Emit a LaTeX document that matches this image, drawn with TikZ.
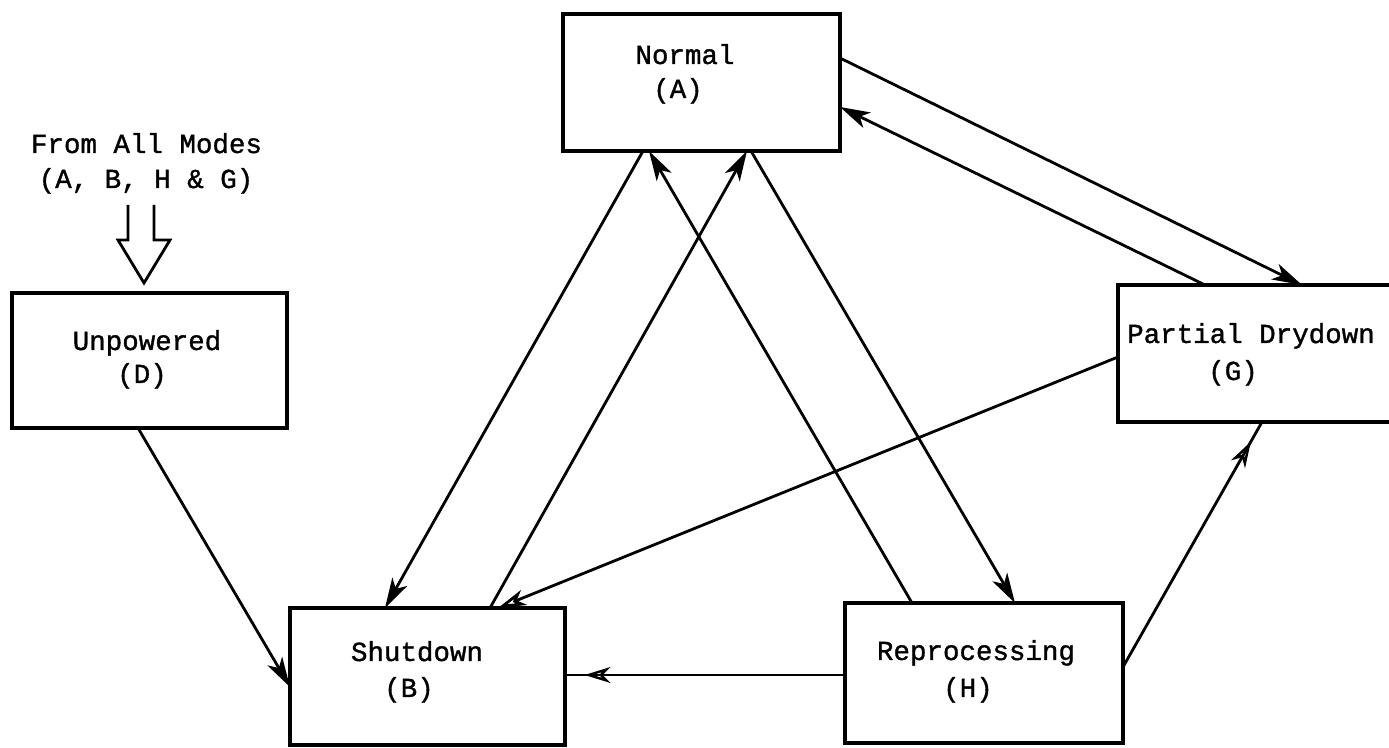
\documentclass[tikz,border=0pt]{standalone}
\usepackage{fontspec}
\setmonofont[FakeBold=1.2]{Liberation Mono}
\usetikzlibrary{arrows.meta,calc,decorations.markings}

\begin{document}
\begin{tikzpicture}[x=0.5pt,y=-0.5pt,
  box/.style={draw, line width=1.8pt, rectangle, inner sep=0pt, outer sep=0pt},
  lbl/.style={font=\ttfamily\fontsize{13.75pt}{16pt}\selectfont, anchor=base, inner sep=0pt},
  conn/.style={line width=1.4pt, -{Stealth[length=15pt,width=8.5pt,inset=4pt]}},
  openconn/.style={line width=1.4pt, -{Stealth[open,length=14pt,width=8pt,inset=4pt]}},
  tipat/.style={line width=1.4pt, postaction={decorate},
    decoration={markings, mark=at position #1 with {\arrow[line width=1.2pt]{Stealth[open,length=13pt,width=8pt,inset=4pt]}}}}
]
\useasboundingbox (0,0) rectangle (1389,748);
\fill[white] (0,0) rectangle (1389,748);
\clip (0,0) rectangle (1389,748);

% mode boxes
\node[box, minimum width=138.5pt, minimum height=68.5pt] (A) at (701.5,82.5) {};
\node[box, minimum width=137.5pt, minimum height=67.5pt] (D) at (149.5,360.5) {};
\node[box, minimum width=137.5pt, minimum height=68.5pt] (B) at (427.5,676.5) {};
\node[box, minimum width=139pt, minimum height=70pt] (H) at (984,673) {};
\node[box, minimum width=141pt, minimum height=68.5pt] (G) at (1259,353.5) {};

% box texts
\node[lbl] (A-name) at (685,64) {Normal};
\node[lbl] (A-code) at (678,98) {(A)};
\node[lbl] (D-name) at (147,350) {Unpowered};
\node[lbl] (D-code) at (142,383) {(D)};
\node[lbl] (B-name) at (417,661) {Shutdown};
\node[lbl] (B-code) at (409,697) {(B)};
\node[lbl] (H-name) at (976,660) {Reprocessing};
\node[lbl] (H-code) at (968,697) {(H)};
\node[lbl] (G-name) at (1251,343) {Partial Drydown};
\node[lbl] (G-code) at (1233,380) {(G)};
\node[lbl] (all-name) at (146.5,153) {From All Modes};
\node[lbl] (all-code) at (146,188) {(A, B, H \& G)};

% hollow arrow into the unpowered mode
\draw[line width=1.4pt, line join=miter]
  (128,205) -- (128,240) -- (118,240) -- (144,283) -- (170,240) -- (154,240) -- (154,205);

% attachment points on the box borders
\coordinate (A-r1) at ($(A.north east)+(0,44)$);
\coordinate (A-r2) at ($(A.north east)+(0,93)$);
\coordinate (A-b1) at ($(A.south west)+(80,0)$);
\coordinate (A-b2) at ($(A.south west)+(86,0)$);
\coordinate (A-b3) at ($(A.south west)+(184,0)$);
\coordinate (A-b4) at ($(A.south west)+(188,0)$);
\coordinate (G-t1) at ($(G.north west)+(87,0)$);
\coordinate (G-t2) at ($(G.north west)+(184,0)$);
\coordinate (G-l)  at ($(G.north west)+(0,72)$);
\coordinate (G-b)  at ($(G.south west)+(144,0)$);
\coordinate (B-t1) at ($(B.north west)+(95,0)$);
\coordinate (B-t2) at ($(B.north west)+(200,0)$);
\coordinate (B-t3) at ($(B.north west)+(208,0)$);
\coordinate (B-l)  at ($(B.north west)+(0,79)$);
\coordinate (B-r)  at ($(B.north east)+(0,67)$);
\coordinate (H-t1) at ($(H.north west)+(67,0)$);
\coordinate (H-t2) at ($(H.north west)+(170,0)$);
\coordinate (H-l)  at ($(H.north west)+(0,72)$);
\coordinate (H-r)  at ($(H.north east)+(0,64)$);
\coordinate (D-b)  at ($(D.south west)+(126,0)$);

% transitions
\draw[conn] (A-r1) -- (G-t2);
\draw[conn] (G-t1) -- (A-r2);
\draw[conn] (A-b1) -- (B-t1);
\draw[conn] (H-t1) -- (A-b2);
\draw[conn] (B-t2) -- (A-b3);
\draw[conn] (A-b4) -- (H-t2);
\draw[openconn] (G-l) -- (B-t3);
\draw[tipat=0.93] (H-l) -- (B-r);
\draw[tipat=0.92] (H-r) -- (G-b);
\draw[conn] (D-b) -- (B-l);
\end{tikzpicture}
\end{document}
